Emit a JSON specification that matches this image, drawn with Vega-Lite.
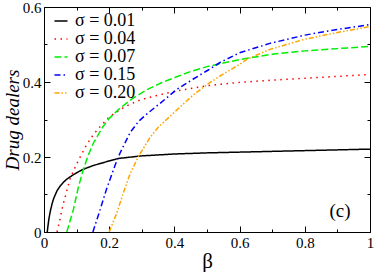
{
  "$schema": "https://vega.github.io/schema/vega-lite/v6.json",
  "width": 326,
  "height": 225,
  "autosize": {"type": "none"},
  "padding": {"left": 44, "top": 7, "right": 4, "bottom": 40},
  "background": "white",
  "config": {
    "view": {"stroke": null},
    "font": "Liberation Serif, serif",
    "axis": {
      "grid": false,
      "domainColor": "#000000",
      "domainWidth": 1,
      "tickColor": "#000000",
      "tickWidth": 1,
      "labelFont": "Liberation Serif, serif",
      "labelFontSize": 15,
      "labelColor": "#000000",
      "titleFont": "Liberation Serif, serif",
      "titleColor": "#000000",
      "titleFontWeight": "normal"
    }
  },
  "layer": [
    {
      "data": {
        "values": [
          {"s": "σ = 0.01", "b": 0.01, "v": 0},
          {"s": "σ = 0.01", "b": 0.012, "v": 0.015},
          {"s": "σ = 0.01", "b": 0.015, "v": 0.035},
          {"s": "σ = 0.01", "b": 0.02, "v": 0.058},
          {"s": "σ = 0.01", "b": 0.025, "v": 0.076},
          {"s": "σ = 0.01", "b": 0.03, "v": 0.09},
          {"s": "σ = 0.01", "b": 0.04, "v": 0.11},
          {"s": "σ = 0.01", "b": 0.05, "v": 0.123},
          {"s": "σ = 0.01", "b": 0.06, "v": 0.133},
          {"s": "σ = 0.01", "b": 0.07, "v": 0.141},
          {"s": "σ = 0.01", "b": 0.08, "v": 0.147},
          {"s": "σ = 0.01", "b": 0.1, "v": 0.158},
          {"s": "σ = 0.01", "b": 0.12, "v": 0.167},
          {"s": "σ = 0.01", "b": 0.15, "v": 0.177},
          {"s": "σ = 0.01", "b": 0.19, "v": 0.187},
          {"s": "σ = 0.01", "b": 0.227, "v": 0.196},
          {"s": "σ = 0.01", "b": 0.3, "v": 0.203},
          {"s": "σ = 0.01", "b": 0.4, "v": 0.208},
          {"s": "σ = 0.01", "b": 0.5, "v": 0.211},
          {"s": "σ = 0.01", "b": 0.6, "v": 0.213},
          {"s": "σ = 0.01", "b": 0.7, "v": 0.215},
          {"s": "σ = 0.01", "b": 0.8, "v": 0.217},
          {"s": "σ = 0.01", "b": 0.9, "v": 0.219},
          {"s": "σ = 0.01", "b": 1.0, "v": 0.221},
          {"s": "σ = 0.04", "b": 0.04, "v": 0},
          {"s": "σ = 0.04", "b": 0.045, "v": 0.018},
          {"s": "σ = 0.04", "b": 0.05, "v": 0.038},
          {"s": "σ = 0.04", "b": 0.055, "v": 0.06},
          {"s": "σ = 0.04", "b": 0.06, "v": 0.078},
          {"s": "σ = 0.04", "b": 0.067, "v": 0.1},
          {"s": "σ = 0.04", "b": 0.08, "v": 0.142},
          {"s": "σ = 0.04", "b": 0.09, "v": 0.162},
          {"s": "σ = 0.04", "b": 0.105, "v": 0.19},
          {"s": "σ = 0.04", "b": 0.13, "v": 0.232},
          {"s": "σ = 0.04", "b": 0.15, "v": 0.258},
          {"s": "σ = 0.04", "b": 0.172, "v": 0.281},
          {"s": "σ = 0.04", "b": 0.2, "v": 0.307},
          {"s": "σ = 0.04", "b": 0.25, "v": 0.335},
          {"s": "σ = 0.04", "b": 0.294, "v": 0.352},
          {"s": "σ = 0.04", "b": 0.35, "v": 0.365},
          {"s": "σ = 0.04", "b": 0.407, "v": 0.376},
          {"s": "σ = 0.04", "b": 0.5, "v": 0.39},
          {"s": "σ = 0.04", "b": 0.6, "v": 0.399},
          {"s": "σ = 0.04", "b": 0.7, "v": 0.405},
          {"s": "σ = 0.04", "b": 0.8, "v": 0.41},
          {"s": "σ = 0.04", "b": 0.9, "v": 0.415},
          {"s": "σ = 0.04", "b": 1.0, "v": 0.42},
          {"s": "σ = 0.07", "b": 0.07, "v": 0},
          {"s": "σ = 0.07", "b": 0.075, "v": 0.015},
          {"s": "σ = 0.07", "b": 0.08, "v": 0.03},
          {"s": "σ = 0.07", "b": 0.09, "v": 0.059},
          {"s": "σ = 0.07", "b": 0.105, "v": 0.118},
          {"s": "σ = 0.07", "b": 0.12, "v": 0.165},
          {"s": "σ = 0.07", "b": 0.135, "v": 0.203},
          {"s": "σ = 0.07", "b": 0.151, "v": 0.236},
          {"s": "σ = 0.07", "b": 0.18, "v": 0.28},
          {"s": "σ = 0.07", "b": 0.2, "v": 0.303},
          {"s": "σ = 0.07", "b": 0.233, "v": 0.33},
          {"s": "σ = 0.07", "b": 0.27, "v": 0.355},
          {"s": "σ = 0.07", "b": 0.315, "v": 0.379},
          {"s": "σ = 0.07", "b": 0.36, "v": 0.398},
          {"s": "σ = 0.07", "b": 0.407, "v": 0.414},
          {"s": "σ = 0.07", "b": 0.45, "v": 0.428},
          {"s": "σ = 0.07", "b": 0.5, "v": 0.441},
          {"s": "σ = 0.07", "b": 0.6, "v": 0.46},
          {"s": "σ = 0.07", "b": 0.7, "v": 0.474},
          {"s": "σ = 0.07", "b": 0.8, "v": 0.483},
          {"s": "σ = 0.07", "b": 0.9, "v": 0.489},
          {"s": "σ = 0.07", "b": 1.0, "v": 0.495},
          {"s": "σ = 0.15", "b": 0.15, "v": 0},
          {"s": "σ = 0.15", "b": 0.16, "v": 0.027},
          {"s": "σ = 0.15", "b": 0.172, "v": 0.059},
          {"s": "σ = 0.15", "b": 0.192, "v": 0.115},
          {"s": "σ = 0.15", "b": 0.218, "v": 0.178},
          {"s": "σ = 0.15", "b": 0.233, "v": 0.21},
          {"s": "σ = 0.15", "b": 0.264, "v": 0.265},
          {"s": "σ = 0.15", "b": 0.29, "v": 0.295},
          {"s": "σ = 0.15", "b": 0.32, "v": 0.318},
          {"s": "σ = 0.15", "b": 0.356, "v": 0.343},
          {"s": "σ = 0.15", "b": 0.407, "v": 0.38},
          {"s": "σ = 0.15", "b": 0.458, "v": 0.408},
          {"s": "σ = 0.15", "b": 0.5, "v": 0.43},
          {"s": "σ = 0.15", "b": 0.54, "v": 0.452},
          {"s": "σ = 0.15", "b": 0.6, "v": 0.478},
          {"s": "σ = 0.15", "b": 0.693, "v": 0.503},
          {"s": "σ = 0.15", "b": 0.8, "v": 0.525},
          {"s": "σ = 0.15", "b": 0.9, "v": 0.54},
          {"s": "σ = 0.15", "b": 1.0, "v": 0.553},
          {"s": "σ = 0.20", "b": 0.2, "v": 0},
          {"s": "σ = 0.20", "b": 0.21, "v": 0.022},
          {"s": "σ = 0.20", "b": 0.223, "v": 0.05},
          {"s": "σ = 0.20", "b": 0.243, "v": 0.103},
          {"s": "σ = 0.20", "b": 0.264, "v": 0.155},
          {"s": "σ = 0.20", "b": 0.289, "v": 0.2},
          {"s": "σ = 0.20", "b": 0.325, "v": 0.252},
          {"s": "σ = 0.20", "b": 0.351, "v": 0.28},
          {"s": "σ = 0.20", "b": 0.417, "v": 0.333},
          {"s": "σ = 0.20", "b": 0.46, "v": 0.367},
          {"s": "σ = 0.20", "b": 0.5, "v": 0.393},
          {"s": "σ = 0.20", "b": 0.54, "v": 0.416},
          {"s": "σ = 0.20", "b": 0.6, "v": 0.447},
          {"s": "σ = 0.20", "b": 0.626, "v": 0.462},
          {"s": "σ = 0.20", "b": 0.693, "v": 0.487},
          {"s": "σ = 0.20", "b": 0.8, "v": 0.514},
          {"s": "σ = 0.20", "b": 0.9, "v": 0.532},
          {"s": "σ = 0.20", "b": 1.0, "v": 0.548}
        ]
      },
      "mark": {"type": "line", "strokeWidth": 1.5, "clip": true},
      "encoding": {
        "x": {
          "field": "b",
          "type": "quantitative",
          "scale": {"domain": [0, 1], "nice": false},
          "axis": {
            "orient": "bottom",
            "title": "β",
            "titleFontSize": 21,
            "titlePadding": 0,
            "values": [0, 0.1, 0.2, 0.3, 0.4, 0.5, 0.6, 0.7, 0.8, 0.9, 1],
            "labelExpr": "round(datum.value*10)%2==0 ? format(datum.value, '~g') : ''",
            "labelPadding": 9,
            "labelFlush": false,
            "tickSize": {"condition": {"test": "round(datum.value*10)%2==0", "value": -6}, "value": -3}
          }
        },
        "y": {
          "field": "v",
          "type": "quantitative",
          "scale": {"domain": [0, 0.6], "nice": false},
          "axis": {
            "orient": "left",
            "title": "Drug dealers",
            "titleFontSize": 19,
            "titleFontStyle": "italic",
            "titlePadding": 0,
            "values": [0, 0.1, 0.2, 0.3, 0.4, 0.5, 0.6],
            "labelExpr": "round(datum.value*10)%2==0 ? format(datum.value, '~g') : ''",
            "labelPadding": 9,
            "labelFlush": false,
            "tickSize": {"condition": {"test": "round(datum.value*10)%2==0", "value": -6}, "value": -3}
          }
        },
        "color": {
          "field": "s",
          "type": "nominal",
          "scale": {
            "domain": ["σ = 0.01", "σ = 0.04", "σ = 0.07", "σ = 0.15", "σ = 0.20"],
            "range": ["#000000", "#ff0000", "#00ee00", "#0000ff", "#ffa500"]
          },
          "legend": {
            "orient": "none",
            "legendX": 8,
            "legendY": 5,
            "title": null,
            "padding": 0,
            "symbolType": "stroke",
            "symbolSize": 169,
            "symbolStrokeWidth": 1.5,
            "labelFont": "Liberation Serif, serif",
            "labelFontSize": 18,
            "labelColor": "#000000",
            "labelOffset": 5,
            "rowPadding": 0
          }
        },
        "strokeDash": {
          "field": "s",
          "type": "nominal",
          "scale": {
            "domain": ["σ = 0.01", "σ = 0.04", "σ = 0.07", "σ = 0.15", "σ = 0.20"],
            "range": [[1, 0], [1.5, 4.5], [7, 3], [6, 3, 1.5, 3], [5, 2, 1.5, 2, 1.5, 2]]
          },
          "legend": {
            "orient": "none",
            "legendX": 8,
            "legendY": 5,
            "title": null,
            "padding": 0,
            "symbolType": "stroke",
            "symbolSize": 169,
            "symbolStrokeWidth": 1.5,
            "labelFont": "Liberation Serif, serif",
            "labelFontSize": 18,
            "labelColor": "#000000",
            "labelOffset": 5,
            "rowPadding": 0
          }
        }
      }
    },
    {
      "data": {"values": [{"label": "(c)"}]},
      "mark": {"type": "text", "font": "Liberation Serif, serif", "fontSize": 19, "color": "#000000", "align": "center", "baseline": "middle"},
      "encoding": {
        "text": {"field": "label"},
        "x": {
          "datum": 0.908,
          "type": "quantitative",
          "axis": {
            "orient": "top",
            "title": null,
            "labels": false,
            "values": [0, 0.1, 0.2, 0.3, 0.4, 0.5, 0.6, 0.7, 0.8, 0.9, 1],
            "tickSize": {"condition": {"test": "round(datum.value*10)%2==0", "value": -6}, "value": -3}
          }
        },
        "y": {
          "datum": 0.055,
          "type": "quantitative",
          "axis": {
            "orient": "right",
            "title": null,
            "labels": false,
            "values": [0, 0.1, 0.2, 0.3, 0.4, 0.5, 0.6],
            "tickSize": {"condition": {"test": "round(datum.value*10)%2==0", "value": -6}, "value": -3}
          }
        }
      }
    }
  ],
  "resolve": {"axis": {"x": "independent", "y": "independent"}}
}
